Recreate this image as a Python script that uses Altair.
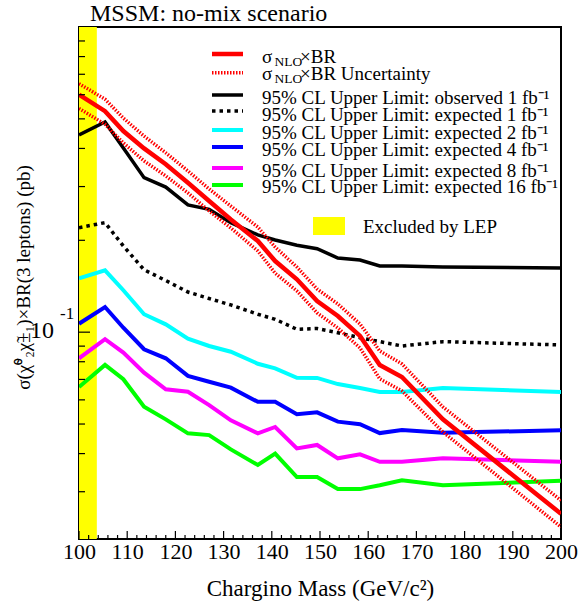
import altair as alt
import pandas as pd

# ---------------- data ----------------
mass = [100, 105.4, 109.2, 113.5, 118, 122.6, 127, 131.5, 137.1, 140.7,
        145.2, 149.4, 153.7, 158.3, 162.4, 167, 175.5, 200]

sigma_br = [0.60, 0.53, 0.456, 0.40, 0.355, 0.309, 0.269, 0.234, 0.199, 0.171,
            0.149, 0.1265, 0.113, 0.0972, 0.078, 0.0713, 0.0518, 0.0254]
sigma_up = [0.652, 0.580, 0.503, 0.439, 0.387, 0.3375, 0.2945, 0.259, 0.221, 0.190,
            0.1635, 0.1385, 0.1237, 0.1064, 0.0868, 0.0787, 0.0569, 0.0281]
sigma_dn = [0.541, 0.480, 0.417, 0.364, 0.325, 0.286, 0.2495, 0.2195, 0.1845, 0.156,
            0.1365, 0.1156, 0.1032, 0.0888, 0.0703, 0.0642, 0.0471, 0.0230]

obs_1fb = [0.4427, 0.4884, 0.4014, 0.3208, 0.2989, 0.2611, 0.2527, 0.2285, 0.2083, 0.2004,
           0.1926, 0.1877, 0.1750, 0.1724, 0.1648, 0.1648, 0.1635, 0.1623]
exp_1fb = [0.2200, 0.2285, 0.1916, 0.1601, 0.1476, 0.1354, 0.1289, 0.1228, 0.1145, 0.1102,
           0.1022, 0.1028, 0.0996, 0.0959, 0.0931, 0.0901, 0.0931, 0.0908]
exp_2fb = [0.1502, 0.1595, 0.1372, 0.1145, 0.1061, 0.0952, 0.0901, 0.0863, 0.0788, 0.0761,
           0.0709, 0.0708, 0.0676, 0.0656, 0.0637, 0.0637, 0.0656, 0.0637]
exp_4fb = [0.1066, 0.1209, 0.1034, 0.0879, 0.0821, 0.0719, 0.0688, 0.0658, 0.0591, 0.0591,
           0.0538, 0.0546, 0.0509, 0.0499, 0.0467, 0.0478, 0.0468, 0.0477]
exp_8fb = [0.0821, 0.0948, 0.0857, 0.0737, 0.0650, 0.0638, 0.0577, 0.0514, 0.0466, 0.0489,
           0.0416, 0.0427, 0.0386, 0.0398, 0.0376, 0.0376, 0.0386, 0.0376]
exp_16fb = [0.0661, 0.0781, 0.0701, 0.0570, 0.0518, 0.0466, 0.0460, 0.0413, 0.0367, 0.0400,
            0.0335, 0.0335, 0.0306, 0.0306, 0.0315, 0.0327, 0.0315, 0.0326]

lep_excluded = [100, 103.7]

legend_labels = [
    "×BR",
    "×BR Uncertainty",
    "95% CL Upper Limit: observed 1 fb⁻¹",
    "95% CL Upper Limit: expected 1 fb⁻¹",
    "95% CL Upper Limit: expected 2 fb⁻¹",
    "95% CL Upper Limit: expected 4 fb⁻¹",
    "95% CL Upper Limit: expected 8 fb⁻¹",
    "95% CL Upper Limit: expected 16 fb⁻¹",
]

x_major = [100, 110, 120, 130, 140, 150, 160, 170, 180, 190, 200]
x_minor = [m for m in range(102, 200, 2) if m % 10 != 0]
y_major = [0.1]
y_minor = [0.03, 0.04, 0.05, 0.06, 0.07, 0.08, 0.09,
           0.2, 0.3, 0.4, 0.5, 0.6, 0.7, 0.8, 0.9]

# ---------------- layout / style ----------------
FONT = "Liberation Serif"
W, H = 482, 512
XDOM = [100, 200]
YDOM = [0.021, 1.0]

x_axis = alt.Axis(values=x_major, format="d", title="Chargino Mass (GeV/c²)",
                  ticks=False, tickSize=0, domain=False, grid=False,
                  labelFont=FONT, labelFontSize=22, labelColor="black",
                  labelFlush=False, labelOverlap=False, labelBaseline="alphabetic",
                  labelPadding=19.5,
                  titleFont=FONT, titleFontSize=23, titleFontWeight="normal",
                  titleColor="black", titleY=56, titleBaseline="alphabetic")
y_axis = alt.Axis(title="σ(χ̃⁰₂χ̃±₁)×BR(3 leptons) (pb)", labels=False,
                  ticks=False, domain=False, grid=False,
                  titleFont=FONT, titleFontSize=19, titleFontWeight="normal",
                  titleColor="black", titleX=-49.5, titleY=250, titleAngle=-90,
                  titleBaseline="alphabetic")


def X(field):
    return alt.X(f"{field}:Q", scale=alt.Scale(domain=XDOM, nice=False, zero=False),
                 axis=x_axis)


def Y(field):
    return alt.Y(f"{field}:Q", scale=alt.Scale(type="log", domain=YDOM, nice=False),
                 axis=y_axis)


layers = []

# LEP excluded band
band_df = pd.DataFrame({"lo": [lep_excluded[0]], "hi": [lep_excluded[1]]})
layers.append(alt.Chart(band_df).mark_rect(color="#ffff00").encode(
    x=X("lo"), x2="hi", y=alt.value(0), y2=alt.value(H)))

series = [
    (obs_1fb, "black", 3.5, None),
    (exp_1fb, "black", 3.5, [3.5, 4]),
    (exp_2fb, "#00ffff", 4, None),
    (exp_4fb, "#0000ff", 4, None),
    (exp_8fb, "#ff00ff", 4, None),
    (exp_16fb, "#00ff00", 4, None),
    (sigma_up, "#ff0000", 3.5, [1.5, 1.5]),
    (sigma_dn, "#ff0000", 3.5, [1.5, 1.5]),
    (sigma_br, "#ff0000", 4.5, None),
]
for vals, col, sw, dash in series:
    df = pd.DataFrame({"mass": mass, "xs": vals})
    kw = dict(color=col, strokeWidth=sw, clip=True)
    if dash:
        kw["strokeDash"] = dash
    layers.append(alt.Chart(df).mark_line(**kw).encode(x=X("mass"), y=Y("xs")))

# inward ticks
layers.append(alt.Chart(pd.DataFrame({"t": x_major})).mark_rule(color="black", strokeWidth=1.2)
              .encode(x=X("t"), y=alt.value(H), y2=alt.value(H - 8)))
layers.append(alt.Chart(pd.DataFrame({"t": x_minor})).mark_rule(color="black", strokeWidth=1.2)
              .encode(x=X("t"), y=alt.value(H), y2=alt.value(H - 4)))
layers.append(alt.Chart(pd.DataFrame({"t": y_major})).mark_rule(color="black", strokeWidth=1.2)
              .encode(y=Y("t"), x=alt.value(0), x2=alt.value(11)))
layers.append(alt.Chart(pd.DataFrame({"t": y_minor})).mark_rule(color="black", strokeWidth=1.2)
              .encode(y=Y("t"), x=alt.value(0), x2=alt.value(6)))


def text_layer(txt, x, y, size, align="left", baseline="alphabetic"):
    return alt.Chart(pd.DataFrame({"s": [txt]})).mark_text(
        font=FONT, fontSize=size, color="black", align=align, baseline=baseline
    ).encode(x=alt.value(x), y=alt.value(y), text="s:N")


# y-axis label 10^-1
layers.append(text_layer("10", -49, 311, 24))
layers.append(text_layer("-1", -19, 292, 17))

# title
layers.append(text_layer("MSSM: no-mix scenario", 11, -6, 24))

# legend
line_y = [27, 45.7, 68, 84, 103, 120, 141, 158]
text_y = [35.7, 53, 77.3, 94, 112.3, 129, 150.3, 165.7]
legend_styles = [
    ("#ff0000", 4.5, None), ("#ff0000", 3.5, [1.5, 1.5]),
    ("black", 3.5, None), ("black", 3.5, [3.5, 4]),
    ("#00ffff", 4, None), ("#0000ff", 4, None),
    ("#ff00ff", 4, None), ("#00ff00", 4, None),
]
for i, (lab, (col, sw, dash)) in enumerate(zip(legend_labels, legend_styles)):
    kw = dict(color=col, strokeWidth=sw)
    if dash:
        kw["strokeDash"] = dash
    layers.append(alt.Chart(pd.DataFrame({"s": [lab]})).mark_rule(**kw).encode(
        x=alt.value(133), x2=alt.value(164), y=alt.value(line_y[i])))
    if i < 2:
        layers.append(text_layer("σ", 183, text_y[i], 19))
        layers.append(text_layer("NLO", 195.5, text_y[i] + 2.8, 13.5))
        layers.append(text_layer(lab, 221, text_y[i], 19))
    else:
        layers.append(text_layer(lab, 183, text_y[i], 19))

# "Excluded by LEP" box
layers.append(alt.Chart(pd.DataFrame({"s": ["LEP"]})).mark_rect(color="#ffff00").encode(
    x=alt.value(234), x2=alt.value(266), y=alt.value(190), y2=alt.value(208)))
layers.append(text_layer("Excluded by LEP", 284, 205.7, 19))

chart = alt.layer(*layers).properties(
    width=W, height=H,
    autosize=alt.AutoSizeParams(type="none"),
    padding={"left": 79, "top": 27, "right": 20, "bottom": 66},
    background="white",
).configure_view(stroke="black", strokeWidth=2)

chart.save("out.html", embed_options={"renderer": "svg", "actions": False})
